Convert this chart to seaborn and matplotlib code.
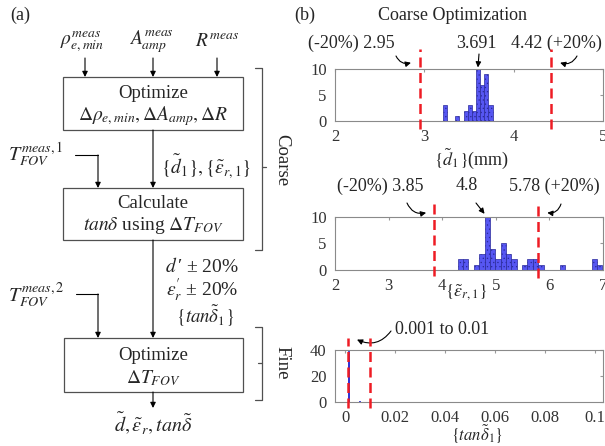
import numpy as np
import pandas as pd
import matplotlib.pyplot as plt
import seaborn as sns
from matplotlib.patches import Rectangle

# ---- data ----
d1_values = [3.23, 3.37, 3.46, 3.51, 3.56, 3.60, 3.65, 3.69, 3.74]
d1_counts = [3, 1, 2, 3, 2, 10, 7, 9, 3]
d1_bounds = [2.95, 4.42]
d1_peak = "3.691"

eps_values = [4.34, 4.44, 4.64, 4.74, 4.84, 4.94, 5.04, 5.14, 5.24, 5.34,
              5.54, 5.64, 5.74, 5.84, 6.24, 6.84, 6.94]
eps_counts = [2, 2, 1, 3, 10, 4, 2, 5, 3, 2, 1, 2, 2, 1, 1, 2, 1]
eps_bounds = [3.85, 5.78]
eps_peak = "4.8"

tan_values = [0.0012, 0.0057]
tan_counts = [39, 1]
tan_bounds = [0.001, 0.01]

sns.set_style("white")
plt.rcParams["font.family"] = ["Liberation Serif", "DejaVu Serif"]
plt.rcParams["mathtext.fontset"] = "stix"
plt.rcParams["hatch.color"] = "#2a2a9a"
plt.rcParams["hatch.linewidth"] = 0.4

W, H = 605, 446
fig = plt.figure(figsize=(W / 100, H / 100), dpi=100)

# overlay axes in pixel coordinates for the flowchart and free text
fa = fig.add_axes([0, 0, 1, 1])
fa.set_xlim(0, W)
fa.set_ylim(H, 0)
fa.axis("off")


def px_axes(x0, y0, x1, y1):
    return fig.add_axes([x0 / W, 1 - y1 / H, (x1 - x0) / W, (y1 - y0) / H])


bar_kw = dict(color="#5656f2", edgecolor="#2a2a9a", linewidth=0.5,
              hatch="....", alpha=1)


def hist(ax, values, counts, bins, **kw):
    df = pd.DataFrame({"v": values, "c": counts})
    sns.histplot(data=df, x="v", weights="c", bins=list(bins), ax=ax, **kw)


def style(ax, xlim, ylim, xticks, yticks, xtl=None):
    ax.set_xlim(*xlim)
    ax.set_ylim(*ylim)
    ax.set_xticks(xticks)
    ax.set_yticks(yticks)
    if xtl is not None:
        ax.set_xticklabels(xtl)
    ax.set_ylabel("")
    ax.tick_params(direction="in", top=True, right=True, length=2.5,
                   color="#999999", labelsize=12, labelcolor="#333333",
                   pad=6)
    for s in ax.spines.values():
        s.set_color("#8a8a8a")
        s.set_linewidth(0.8)


def red_lines(ax, xs, lo, hi):
    for x, a, b in zip(xs, lo, hi):
        ax.axvline(x, a, b, color="#ee1c24", lw=1.8, ls=(0, (4, 2.2)),
                   clip_on=False, zorder=5)


arrow = dict(arrowstyle="-|>", color="black", lw=0.8, mutation_scale=8,
             shrinkA=0, shrinkB=0)


def pointer(ax, xy, tail, rad=0.0):
    ax.annotate("", xy=xy, xytext=tail, textcoords=fa.transData,
                annotation_clip=False,
                arrowprops=dict(arrow, connectionstyle=f"arc3,rad={rad}"))


tfs = 13

# ---- (b) top: d1 ----
ax1 = px_axes(335, 69, 603, 121)
hist(ax1, d1_values, d1_counts, np.arange(3.206, 3.80, 0.0465), **bar_kw)
style(ax1, (2, 5), (0, 10), [2, 3, 4, 5], [0, 5, 10])
ax1.set_xlabel(r"$\{\tilde{d}_1\}$(mm)", fontsize=13)
ax1.xaxis.set_label_coords(0.51, -0.5)
red_lines(ax1, d1_bounds, [-0.15, -0.15], [1.38, 1.38])
peak1 = d1_values[int(np.argmax(d1_counts))]
fa.text(351, 43, f"(-20%) {d1_bounds[0]:.2f}", ha="center", va="center", fontsize=tfs)
fa.text(476, 43, d1_peak, ha="center", va="center", fontsize=tfs)
fa.text(556, 43, f"{d1_bounds[1]:.2f} (+20%)", ha="center", va="center", fontsize=tfs)
pointer(ax1, (d1_bounds[0] - 0.1, 11.2), (396, 56), 0.4)
pointer(ax1, (peak1, 10.3), (479, 54))
pointer(ax1, (d1_bounds[1] + 0.1, 11.2), (577, 56), -0.4)

# ---- (b) middle: eps_r ----
ax2 = px_axes(335, 217, 603, 270)
hist(ax2, eps_values, eps_counts, np.round(np.arange(4.29, 7.0, 0.1), 3), **bar_kw)
style(ax2, (2, 7), (0, 10), [2, 3, 4, 5, 6, 7], [0, 5, 10])
ax2.set_xlabel(r"$\{\tilde{\varepsilon}_{r,1}\}$", fontsize=13)
ax2.xaxis.set_label_coords(0.49, -0.24)
red_lines(ax2, eps_bounds, [-0.11, -0.15], [1.26, 1.2])
peak2 = eps_values[int(np.argmax(eps_counts))]
fa.text(380, 186, f"(-20%) {eps_bounds[0]:.2f}", ha="center", va="center", fontsize=tfs)
fa.text(467, 186, eps_peak, ha="center", va="center", fontsize=tfs)
fa.text(554, 186, f"{eps_bounds[1]:.2f} (+20%)", ha="center", va="center", fontsize=tfs)
pointer(ax2, (eps_bounds[0] - 0.15, 10.8), (407, 203), 0.4)
pointer(ax2, (peak2 - 0.05, 10.6), (476, 203))
pointer(ax2, (eps_bounds[1] + 0.18, 10.8), (561, 204), -0.4)

# ---- (b) bottom: tan delta ----
ax3 = px_axes(335, 350, 603, 402)
hist(ax3, tan_values, tan_counts, np.round(np.arange(0.001, 0.0105, 0.0005), 4),
     color="#3535f0", edgecolor="#2020d0", linewidth=0.6, alpha=1)
style(ax3, (-0.004, 0.1032), (0, 40), [0, 0.02, 0.04, 0.06, 0.08, 0.1],
      [0, 20, 40], ["0", "0.02", "0.04", "0.06", "0.08", "0.1"])
ax3.set_xlabel(r"$\{tan\tilde{\delta}_1\}$", fontsize=12)
ax3.xaxis.set_label_coords(0.53, -0.41)
red_lines(ax3, tan_bounds, [-0.12, -0.12], [1.23, 1.23])
fa.text(442, 330, f"{tan_bounds[0]:g} to {tan_bounds[1]:g}", ha="center",
        va="center", fontsize=tfs)
pointer(ax3, (0.0048, 48), (391, 331), -0.4)

fa.text(305, 15, "(b)", ha="center", va="center", fontsize=13)
fa.text(453, 15, "Coarse Optimization", ha="center", va="center", fontsize=13)

# ---- (a) flowchart ----
fs = 13.5
mfs = 14
fa.text(20, 15, "(a)", ha="center", va="center", fontsize=13)

for x, s in [(82, r"$\rho_{e,min}^{meas}$"), (151, r"$A_{amp}^{meas}$"),
             (217, r"$R^{meas}$")]:
    fa.text(x, 42, s, ha="center", va="center", fontsize=mfs)
for x in [85, 153, 217]:
    fa.annotate("", xy=(x, 77), xytext=(x, 58), arrowprops=arrow)

box = dict(fill=False, edgecolor="#505050", lw=0.9)
fa.add_patch(Rectangle((63, 77), 180, 53, **box))
fa.add_patch(Rectangle((63, 188), 180, 52, **box))
fa.add_patch(Rectangle((64, 338), 179, 54, **box))

fa.text(153, 93, "Optimize", ha="center", va="center", fontsize=fs)
fa.text(153, 116, r"$\Delta\rho_{e,min}, \Delta A_{amp}, \Delta R$",
        ha="center", va="center", fontsize=mfs)
fa.annotate("", xy=(153, 188), xytext=(153, 130), arrowprops=arrow)

fa.text(36, 155, r"$T_{FOV}^{meas,1}$", ha="center", va="center", fontsize=mfs + 0.5)
fa.plot([75, 98], [155, 155], color="black", lw=0.8)
fa.annotate("", xy=(98, 188), xytext=(98, 155), arrowprops=arrow)
fa.text(206, 167, r"$\{\tilde{d}_1\}, \{\tilde{\varepsilon}_{r,1}\}$",
        ha="center", va="center", fontsize=mfs)

fa.text(153, 203, "Calculate", ha="center", va="center", fontsize=fs)
fa.text(153, 226, r"$tan\delta$ using $\Delta T_{FOV}$",
        ha="center", va="center", fontsize=mfs)
fa.annotate("", xy=(153, 338), xytext=(153, 240), arrowprops=arrow)

fa.text(202, 267, r"$d\,$" + "\u2032 \u00b1 20%", ha="center", va="center", fontsize=mfs)
fa.text(202, 290, r"$\varepsilon^{\prime}_r$" + " \u00b1 20%", ha="center",
        va="center", fontsize=mfs)
fa.text(205, 316, r"$\{tan\tilde{\delta}_1\}$", ha="center", va="center", fontsize=13.5)

fa.text(36, 296, r"$T_{FOV}^{meas,2}$", ha="center", va="center", fontsize=mfs + 0.5)
fa.plot([76, 98], [294, 294], color="black", lw=0.8)
fa.annotate("", xy=(98, 338), xytext=(98, 294), arrowprops=arrow)

fa.text(153, 355, "Optimize", ha="center", va="center", fontsize=fs)
fa.text(153, 378, r"$\Delta T_{FOV}$", ha="center", va="center", fontsize=mfs)
fa.annotate("", xy=(153, 408), xytext=(153, 392), arrowprops=arrow)
fa.text(153, 423, r"$\tilde{d}, \tilde{\varepsilon}_r, tan\tilde{\delta}$",
        ha="center", va="center", fontsize=mfs + 0.5)

# brackets
br = dict(color="#505050", lw=0.9)
fa.plot([255, 262, 262, 255], [68, 68, 250, 250], **br)
fa.plot([262, 266], [167, 167], **br)
fa.text(282, 160, "Coarse", ha="center", va="center", rotation=-90, fontsize=fs)
fa.plot([255, 262, 262, 255], [327, 327, 400, 400], **br)
fa.plot([258, 262], [363, 363], **br)
fa.text(282, 363, "Fine", ha="center", va="center", rotation=-90, fontsize=fs)

fig.savefig("out.png", dpi=100)
